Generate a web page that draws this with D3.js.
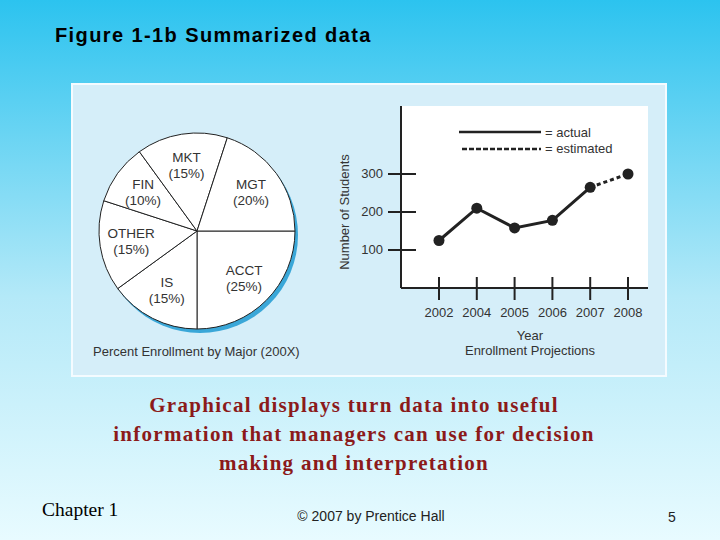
<!DOCTYPE html>
<html><head><meta charset="utf-8">
<script src="https://cdn.jsdelivr.net/npm/d3@7"></script>
<style>body{margin:0}svg{display:block}</style></head>
<body><svg id="c" width="720" height="540"></svg>
<script>
const majors=["ACCT","IS","OTHER","FIN","MKT","MGT"];
const shares=[25,15,15,10,15,20];
const years=["2002","2004","2005","2006","2007","2008"];
const students=[125,210,158,178,265,300];
const yTicks=[100,200,300];

const svg=d3.select("#c");
const defs=svg.append("defs");
const g=defs.append("linearGradient").attr("id","bg").attr("x1",0).attr("y1",0).attr("x2",0).attr("y2",1);
g.append("stop").attr("offset","0").attr("stop-color","#2cc3ef");
g.append("stop").attr("offset","0.55").attr("stop-color","#b4e9f8");
g.append("stop").attr("offset","1").attr("stop-color","#e8fbff");
svg.append("rect").attr("width",720).attr("height",540).attr("fill","url(#bg)");

svg.append("text").attr("x",55).attr("y",42).attr("font-family","Liberation Sans, Arial").attr("font-weight","bold").attr("font-size",20).attr("letter-spacing",1.4).text("Figure 1-1b Summarized data");

svg.append("rect").attr("x",72).attr("y",84).attr("width",594).attr("height",292).attr("fill","#d5eef9").attr("stroke","#f4fbff").attr("stroke-width",2);

// pie
const cx=197,cy=231,R=98;
const pie=d3.pie().sort(null).startAngle(Math.PI/2).endAngle(Math.PI/2+2*Math.PI);
const arcs=pie(shares);
const arc=d3.arc().innerRadius(0).outerRadius(R);
const pg=svg.append("g").attr("transform",`translate(${cx},${cy})`);
pg.append("circle").attr("cx",3).attr("cy",4).attr("r",R).attr("fill","#3aa7d8");
pg.selectAll("path").data(arcs).join("path").attr("d",arc).attr("fill","#fff").attr("stroke","#222").attr("stroke-width",1);
const lab=d3.arc().innerRadius(R*0.68).outerRadius(R*0.68);
arcs.forEach((a,i)=>{
  const [x,y]=lab.centroid(a);
  const t=pg.append("text").attr("text-anchor","middle").attr("font-family","Liberation Sans, Arial").attr("font-size",13.5).attr("fill","#333");
  t.append("tspan").attr("x",x).attr("y",y-3).text(majors[i]);
  t.append("tspan").attr("x",x).attr("y",y+13).text(`(${shares[i]}%)`);
});
svg.append("text").attr("x",93).attr("y",356).attr("font-family","Liberation Sans, Arial").attr("font-size",13).attr("fill","#333").text("Percent Enrollment by Major (200X)");

// line chart
const L=401,T=106,Rr=648,B=288;
svg.append("rect").attr("x",L).attr("y",T).attr("width",Rr-L).attr("height",B-T).attr("fill","#fff");
const x=d3.scalePoint().domain(years).range([439,628]);
const y=d3.scaleLinear().domain([0,300]).range([B,174]);
const ax=svg.append("g").attr("stroke","#222").attr("stroke-width",2);
ax.append("line").attr("x1",L).attr("x2",L).attr("y1",T).attr("y2",B);
ax.append("line").attr("x1",L).attr("x2",Rr).attr("y1",B).attr("y2",B);
yTicks.forEach(v=>ax.append("line").attr("x1",388).attr("x2",416).attr("y1",y(v)).attr("y2",y(v)));
years.forEach(v=>ax.append("line").attr("x1",x(v)).attr("x2",x(v)).attr("y1",277).attr("y2",300));
const tf={"font-family":"Liberation Sans, Arial","font-size":13,"fill":"#333"};
function st(s){Object.entries(tf).forEach(([k,v])=>s.attr(k,v));return s;}
yTicks.forEach(v=>st(svg.append("text")).attr("x",383).attr("y",y(v)+4).attr("text-anchor","end").text(v));
years.forEach(v=>st(svg.append("text")).attr("x",x(v)).attr("y",317).attr("text-anchor","middle").text(v));
st(svg.append("text")).attr("x",530).attr("y",340).attr("text-anchor","middle").text("Year");
st(svg.append("text")).attr("x",530).attr("y",355).attr("text-anchor","middle").text("Enrollment Projections");
st(svg.append("text")).attr("transform","translate(349,212) rotate(-90)").attr("text-anchor","middle").text("Number of Students");
const line=d3.line().x((d,i)=>x(years[i])).y(d=>y(d));
const act=students.slice(0,5);
svg.append("path").attr("d",line(act)).attr("fill","none").attr("stroke","#222").attr("stroke-width",3);
svg.append("path").attr("d",d3.line().x(d=>x(d[0])).y(d=>y(d[1]))([[years[4],students[4]],[years[5],students[5]]])).attr("fill","none").attr("stroke","#222").attr("stroke-width",3).attr("stroke-dasharray","4,3");
svg.selectAll(".pt").data(students).join("circle").attr("cx",(d,i)=>x(years[i])).attr("cy",d=>y(d)).attr("r",5.5).attr("fill","#222");
svg.append("line").attr("x1",459).attr("x2",541).attr("y1",132).attr("y2",132).attr("stroke","#222").attr("stroke-width",2.5);
svg.append("line").attr("x1",462).attr("x2",541).attr("y1",149).attr("y2",149).attr("stroke","#222").attr("stroke-width",2.5).attr("stroke-dasharray","5,2");
st(svg.append("text")).attr("x",545).attr("y",137).text("= actual");
st(svg.append("text")).attr("x",545).attr("y",153).text("= estimated");

// bottom text
const lines=["Graphical displays turn data into useful","information that managers can use for decision","making and interpretation"];
lines.forEach((s,i)=>svg.append("text").attr("x",354).attr("y",412+i*29).attr("text-anchor","middle").attr("font-family","Liberation Serif, Times New Roman").attr("font-weight","bold").attr("font-size",21).attr("letter-spacing",1.3).attr("fill","#8b1a1a").text(s));
svg.append("text").attr("x",42).attr("y",516).attr("font-family","Liberation Serif").attr("font-size",19.5).text("Chapter 1");
svg.append("text").attr("x",371).attr("y",521).attr("text-anchor","middle").attr("font-family","Liberation Sans").attr("font-size",14).attr("fill","#222").text("© 2007 by Prentice Hall");
svg.append("text").attr("x",672).attr("y",522).attr("text-anchor","middle").attr("font-family","Liberation Sans").attr("font-size",14).attr("fill","#222").text("5");
</script></body></html>
